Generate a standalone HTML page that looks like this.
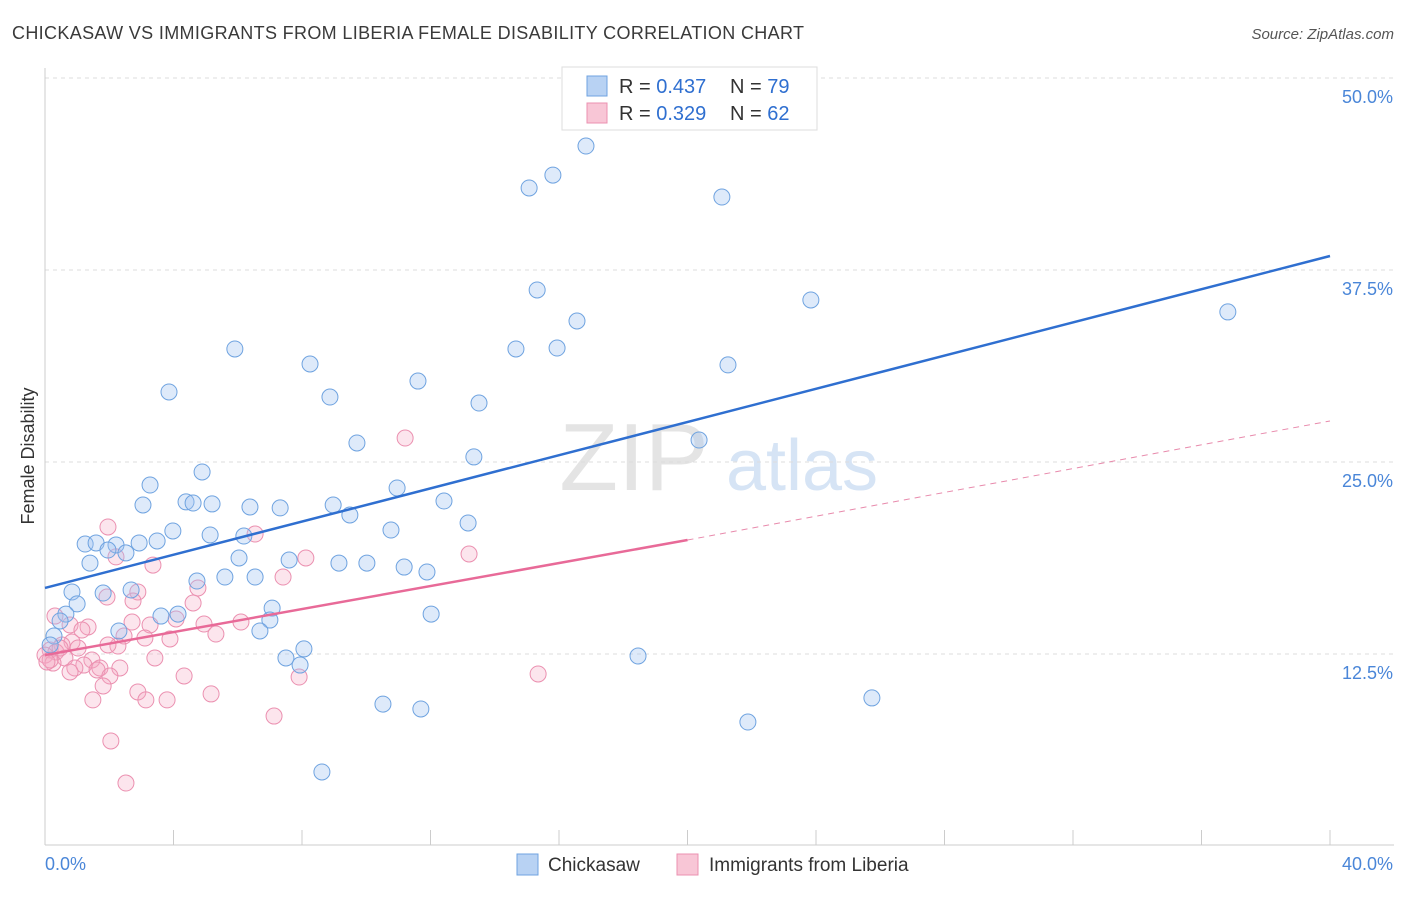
<!DOCTYPE html>
<html><head><meta charset="utf-8"><style>
body{margin:0;background:#fff;font-family:"Liberation Sans",sans-serif;}
svg text{font-family:"Liberation Sans",sans-serif;}
</style></head><body>
<svg width="1406" height="892" viewBox="0 0 1406 892" id="chart">
<text x="12" y="39" font-size="18" fill="#3a3a3a" textLength="792" lengthAdjust="spacing">CHICKASAW VS IMMIGRANTS FROM LIBERIA FEMALE DISABILITY CORRELATION CHART</text>
<text x="1394" y="39" font-size="15" fill="#555" font-style="italic" text-anchor="end">Source: ZipAtlas.com</text>
<text x="0" y="0" transform="translate(34,456) rotate(-90)" font-size="18" fill="#333" text-anchor="middle">Female Disability</text>
<g>
<text x="634" y="490" font-size="96" font-family="Liberation Serif" fill="#e4e4e4" text-anchor="middle">ZIP</text>
<text x="802" y="490" font-size="72" fill="#d6e4f5" text-anchor="middle">atlas</text>
</g>
<g id="grid"></g>
<g id="axes"></g>
<g id="marks"></g>
<g>
<rect x="562" y="67" width="255" height="63" fill="#fff" stroke="#ddd"/>
<rect x="587" y="76" width="20" height="20" fill="#b8d2f3" stroke="#6fa3e0"/>
<text x="619" y="93" font-size="20" fill="#333">R = <tspan fill="#2f6fd0">0.437</tspan></text>
<text x="730" y="93" font-size="20" fill="#333">N = <tspan fill="#2f6fd0">79</tspan></text>
<rect x="587" y="103" width="20" height="20" fill="#f8c6d6" stroke="#eb90b0"/>
<text x="619" y="120" font-size="20" fill="#333">R = <tspan fill="#2f6fd0">0.329</tspan></text>
<text x="730" y="120" font-size="20" fill="#333">N = <tspan fill="#2f6fd0">62</tspan></text>
</g>
<g>
<rect x="517" y="854" width="21" height="21" fill="#b8d2f3" stroke="#6fa3e0"/>
<text x="548" y="871" font-size="19" fill="#333">Chickasaw</text>
<rect x="677" y="854" width="21" height="21" fill="#f8c6d6" stroke="#eb90b0"/>
<text x="709" y="871" font-size="19" fill="#333">Immigrants from Liberia</text>
</g>
</svg>
<script>
const blueX=[16.84,15.81,15.07,21.07,15.32,23.84,16.56,36.82,15.94,14.66,5.91,8.25,21.26,3.86,11.61,8.87,13.51,9.71,20.36,13.35,4.89,3.27,4.39,4.61,5.20,3.05,6.38,7.32,8.97,9.49,10.96,12.42,13.17,10.77,3.98,5.14,6.19,1.25,1.59,2.21,2.93,3.49,1.96,2.52,1.40,6.04,7.60,9.15,10.02,11.18,11.89,6.54,5.60,4.73,0.84,1.81,2.68,1.00,0.65,0.47,3.61,4.14,7.07,7.00,12.02,2.30,6.69,0.28,0.16,8.06,7.50,7.94,18.46,25.74,10.52,11.70,21.88,8.62];
const blueY=[45.57,43.68,42.84,42.25,36.20,35.55,34.18,34.77,32.42,32.36,32.36,31.38,31.32,29.56,30.27,29.23,28.84,26.24,26.43,25.33,24.35,23.50,22.40,22.33,22.27,22.20,22.07,22.01,22.20,21.55,23.31,22.46,21.03,20.57,20.51,20.25,20.18,19.66,19.73,19.60,19.73,19.86,19.27,19.08,18.42,18.75,18.62,18.42,18.42,18.16,17.84,17.51,17.51,17.25,16.54,16.47,16.67,15.76,15.10,14.65,14.97,15.10,15.49,14.71,15.10,14.00,14.00,13.67,13.09,12.83,12.24,11.78,12.37,9.64,9.24,8.92,8.07,4.82];
const pinkX=[11.21,1.96,6.54,2.21,3.36,8.12,13.20,7.41,4.76,2.89,1.93,2.74,4.61,0.31,0.78,4.08,1.34,2.71,3.27,6.10,4.95,5.32,1.15,2.46,3.11,0.84,0.53,1.03,2.27,1.96,3.89,0.16,0.34,0.00,0.62,1.46,1.21,1.71,0.93,0.25,0.78,2.33,1.62,2.02,3.42,4.33,7.91,15.35,1.81,2.89,3.14,1.49,3.80,5.17,7.13,2.05,2.52,0.16,0.47,0.06];
const pinkY=[26.56,20.77,20.31,18.82,18.29,18.75,19.01,17.51,16.80,16.54,16.21,15.95,15.82,14.97,14.39,14.78,14.26,14.58,14.39,14.58,14.45,13.80,14.06,13.67,13.54,13.28,13.09,12.89,13.02,13.09,13.48,12.76,12.63,12.43,12.24,12.11,11.78,11.59,11.59,11.91,11.33,11.59,11.46,11.07,12.24,11.07,11.00,11.20,10.42,10.03,9.51,9.51,9.51,9.90,8.46,6.84,4.10,12.11,12.89,11.98];
const blueTrend=[16.80,38.41];
const pinkTrend=[12.43,19.92,27.67];
const yTicks=[12.5,25,37.5,50];
const yTickLabels=["12.5%","25.0%","37.5%","50.0%"];
const xTicks=[0,4,8,12,16,20,24,28,32,36,40];

const NS="http://www.w3.org/2000/svg";
const xs=v=>45+v*32.125;
const ys=v=>846-v*15.36;
function mk(tag,attrs,parent){const e=document.createElementNS(NS,tag);for(const k in attrs)e.setAttribute(k,attrs[k]);document.getElementById(parent).appendChild(e);return e;}
yTicks.forEach((t,i)=>{
 const g=mk('line',{x1:45,x2:1394,y1:ys(t),y2:ys(t),stroke:'#ddd','stroke-dasharray':'4,4'},'grid');
 
 
 const l=mk('text',{x:1393,y:ys(t)+25,'font-size':18,fill:'#4a86d8','text-anchor':'end'},'axes');
 l.textContent=yTickLabels[i];
 
 
});
const ax=mk('line',{x1:45,x2:1394,y1:845,y2:845,stroke:'#ccc'},'axes');


const ay=mk('line',{x1:45,x2:45,y1:68,y2:845,stroke:'#ccc'},'axes');


xTicks.forEach(t=>{
 const k=mk('line',{x1:xs(t),x2:xs(t),y1:830,y2:845,stroke:'#ccc'},'axes');
 
 
});
const x0=mk('text',{x:45,y:870,'font-size':18,fill:'#4a86d8'},'axes');x0.textContent='0.0%';


const x1=mk('text',{x:1393,y:870,'font-size':18,fill:'#4a86d8','text-anchor':'end'},'axes');x1.textContent='40.0%';



pinkX.forEach((v,i)=>{
 const c=mk('circle',{cx:xs(v),cy:ys(pinkY[i]),r:8,fill:'rgba(245,168,195,0.3)',stroke:'#eb90b0','stroke-width':1},'marks');
 
 
});
blueX.forEach((v,i)=>{
 const c=mk('circle',{cx:xs(v),cy:ys(blueY[i]),r:8,fill:'rgba(160,196,240,0.35)',stroke:'#6fa3e0','stroke-width':1},'marks');
 
 
});
const bl=mk('line',{x1:xs(0),y1:ys(blueTrend[0]),x2:xs(40),y2:ys(blueTrend[1]),stroke:'#2f6fd0','stroke-width':2.5},'marks');


const pl=mk('line',{x1:xs(0),y1:ys(pinkTrend[0]),x2:xs(20),y2:ys(pinkTrend[1]),stroke:'#e86a98','stroke-width':2.5},'marks');


const pd=mk('line',{x1:xs(20),y1:ys(pinkTrend[1]),x2:xs(40),y2:ys(pinkTrend[2]),stroke:'#e88aac','stroke-width':1,'stroke-dasharray':'6,5'},'marks');


</script>
</body></html>
